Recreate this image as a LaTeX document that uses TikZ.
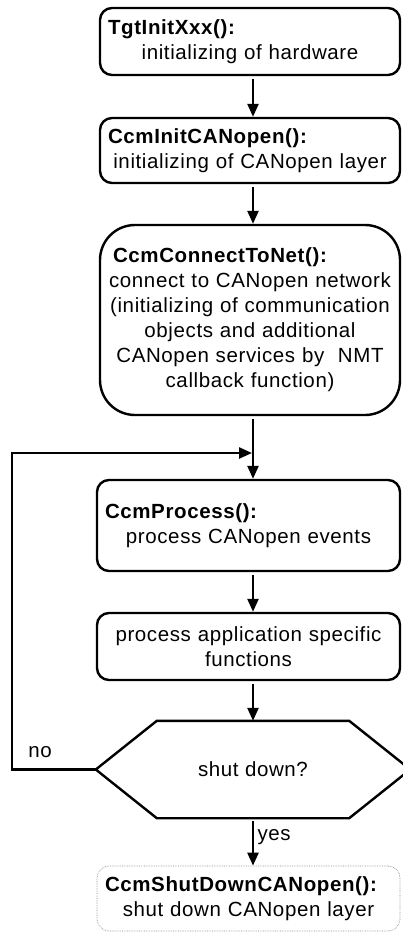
\documentclass[tikz,border=0pt]{standalone}
\usepackage{fontspec}
\setmainfont{Liberation Sans}[LetterSpace=3]
\usetikzlibrary{arrows.meta}

\begin{document}
\begin{tikzpicture}[x=1pt,y=-1pt,>={Triangle[length=13pt,width=11pt]},line width=2.4pt,
	font=\fontsize{20.5}{25}\selectfont,
	box/.style={draw,rounded corners=12pt,inner xsep=8pt,inner ysep=0pt,text width=284pt},
	lowbox/.style={box,text width=287pt},
	arr/.style={->,shorten <=3pt}]
	\useasboundingbox (0,0) rectangle (402,933);
	\coordinate (axis) at (253,0);
	\coordinate (merge) at (253,453);
	\coordinate (loopcorner) at (12,769.5);
	% boxes
	\node[box,minimum height=67pt] (tgt) at (250,41.5)
		{\raggedright\textbf{TgtInitXxx():}\par\centering initializing of hardware\par};
	\node[box,minimum height=65pt] (initco) at (250,150.5)
		{\raggedright\textbf{CcmInitCANopen():}\par\centering initializing of CANopen layer\par};
	\node[box,rounded corners=35pt,minimum height=190pt] (connect) at (250,320)
		{\raggedright\hspace*{5pt}\textbf{CcmConnectToNet():}\par\centering connect to CANopen network\\
		(initializing of communication\\ objects and additional\\ CANopen services by~ NMT\\ callback function)\par};
	\node[lowbox,minimum height=91pt] (proc) at (248.5,525.5)
		{\raggedright\textbf{CcmProcess():}\par\centering process CANopen events\par};
	\node[lowbox,minimum height=67pt] (appl) at (248.5,646.5)
		{\centering process application specific\\ functions\par};
	\node[inner sep=0pt,minimum width=312pt,minimum height=95pt] (dec) at (253,769.5) {shut down?};
	\draw (dec.west) -- ([xshift=61pt]dec.north west) -- ([xshift=-61pt]dec.north east)
		-- (dec.east) -- ([xshift=-61pt]dec.south east) -- ([xshift=61pt]dec.south west) -- cycle;
	\node[lowbox,draw=black!45,line width=0.7pt,densely dotted,minimum height=65pt] (shut) at (248.5,898.5)
		{\raggedright\textbf{CcmShutDownCANopen():}\par\centering shut down CANopen layer\par};
	% connectors
	\draw[arr] (tgt.south -| axis) -- (initco.north -| axis);
	\draw[arr] (initco.south -| axis) -- (connect.north -| axis);
	\draw[arr] (connect.south -| axis) -- (proc.north -| axis);
	\draw[->,shorten >=1pt] (dec.west) -- (loopcorner) |- (merge);
	\draw[arr] (proc.south -| axis) -- (appl.north -| axis);
	\draw[arr] (appl.south -| axis) -- (dec.north);
	\draw[arr] (dec.south) -- node[right,pos=0.4] (yes) {yes} (shut.north -| axis);
	\node (no) at (40,752) {no};
\end{tikzpicture}
\end{document}
